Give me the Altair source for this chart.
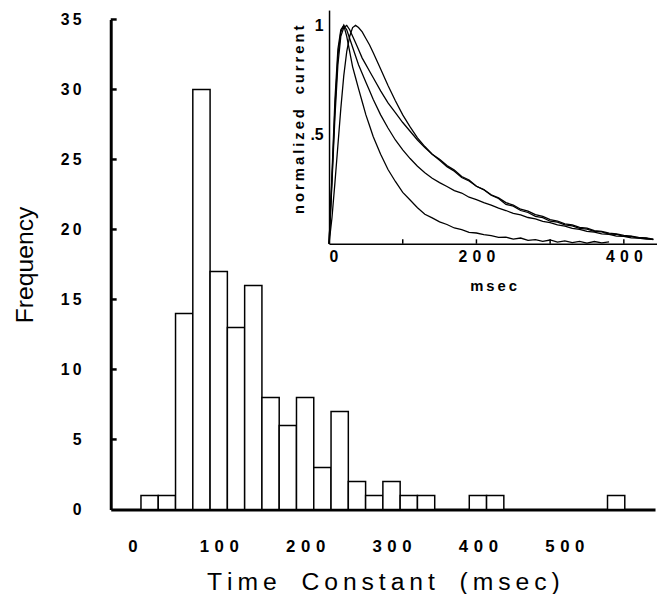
import altair as alt
import pandas as pd

# ---------------- histogram data (20 msec bins) ----------------
bin_start = [10, 30, 50, 70, 90, 110, 130, 150, 170, 190, 210, 230, 250, 270, 290, 310, 330, 390, 410, 550]
counts = [1, 1, 14, 30, 17, 13, 16, 8, 6, 8, 3, 7, 2, 1, 2, 1, 1, 1, 1, 1]
bin_width = 20
y_ticks = [0, 5, 10, 15, 20, 25, 30, 35]
x_ticks = [0, 100, 200, 300, 400, 500]

# ---------------- inset traces (normalized current vs msec) ----------------
t_ms = [0, 4, 8, 12, 16, 20, 24, 28, 32, 36, 40, 45, 50, 55, 60, 70, 80, 90, 100, 110, 120,
        130, 140, 150, 160, 170, 180, 190, 200, 210, 220, 230, 240, 250, 260, 270, 280, 290,
        300, 310, 320, 330, 340, 350, 360, 370, 380, 390, 400, 410, 420, 430, 440]
trace_a = [0.0, 0.30, 0.62, 0.86, 0.97, 1.0, 0.95, 0.88, 0.81, 0.76, 0.71, 0.65, 0.59, 0.54, 0.49,
           0.41, 0.34, 0.285, 0.235, 0.20, 0.165, 0.135, 0.118, 0.10, 0.088, 0.072, 0.064, 0.052,
           0.049, 0.042, 0.037, 0.029, 0.030, 0.021, 0.026, 0.015, 0.019, 0.011, 0.017, 0.007,
           0.013, 0.005, 0.011, 0.003, 0.010, 0.004, 0.008]
trace_b = [0.0, 0.32, 0.66, 0.89, 0.98, 1.0, 0.98, 0.94, 0.90, 0.86, 0.82, 0.78, 0.74, 0.70, 0.66,
           0.59, 0.53, 0.475, 0.43, 0.39, 0.355, 0.325, 0.30, 0.28, 0.262, 0.243, 0.232, 0.213,
           0.202, 0.188, 0.177, 0.163, 0.152, 0.139, 0.132, 0.12, 0.114, 0.102, 0.097, 0.086,
           0.080, 0.070, 0.066, 0.056, 0.053, 0.045, 0.043, 0.035, 0.034, 0.027, 0.026, 0.021, 0.02]
trace_c = [0.0, 0.28, 0.58, 0.82, 0.95, 0.99, 1.0, 0.98, 0.95, 0.92, 0.89, 0.85, 0.82, 0.79, 0.76,
           0.70, 0.645, 0.60, 0.555, 0.515, 0.475, 0.44, 0.41, 0.387, 0.358, 0.337, 0.308, 0.292,
           0.263, 0.247, 0.222, 0.207, 0.180, 0.172, 0.152, 0.143, 0.125, 0.119, 0.103, 0.099,
           0.086, 0.082, 0.070, 0.067, 0.056, 0.054, 0.044, 0.043, 0.034, 0.033, 0.026, 0.025, 0.019]
trace_d = [0.0, 0.12, 0.28, 0.45, 0.62, 0.77, 0.88, 0.95, 0.99, 1.0, 0.99, 0.97, 0.94, 0.91, 0.875,
           0.80, 0.725, 0.655, 0.59, 0.535, 0.485, 0.445, 0.41, 0.382, 0.353, 0.332, 0.303, 0.287,
           0.263, 0.248, 0.224, 0.210, 0.188, 0.177, 0.158, 0.149, 0.133, 0.125, 0.110, 0.104,
           0.091, 0.086, 0.075, 0.071, 0.060, 0.057, 0.048, 0.045, 0.038, 0.035, 0.029, 0.027, 0.021]
inset_x_ticks = [0, 200, 400]
inset_minor_ticks = [100, 200, 300, 400]
inset_y_ticks = [0.5, 1.0]

FONT = "Liberation Sans"
THIN = "\u2009"

# ---------------- tables ----------------
hist = pd.DataFrame({"start": bin_start, "count": counts})
hist["end"] = hist["start"] + bin_width

rows = []
for name, vals in [("a", trace_a), ("b", trace_b), ("c", trace_c), ("d", trace_d)]:
    for t, v in zip(t_ms, vals):
        rows.append({"t": t, "v": v, "trace": name})
traces = pd.DataFrame(rows)

ytick_df = pd.DataFrame({"y": y_ticks[1:]})
inset_tick_df = pd.DataFrame({"t": inset_minor_ticks})

spaced = "join(split(datum.label, ''), '\u2004')"


def spread(word):
    return THIN.join(word)


main_title = "\u2002\u2002".join(spread(w) for w in ["Time", "Constant", "(msec)"])

# ---------------- main histogram ----------------
x_main = alt.X(
    "start:Q",
    scale=alt.Scale(domain=[-25, 605], nice=False, zero=False),
    axis=alt.Axis(
        values=x_ticks, ticks=False, grid=False, domainWidth=3, domainColor="black",
        labelFont=FONT, labelFontSize=17, labelFontWeight="bold", labelColor="black",
        labelPadding=30, labelExpr=spaced,
        title=main_title, titleFont=FONT, titleFontSize=25,
        titleFontWeight="normal", titleColor="black", titleY=73, titleBaseline="middle",
    ),
)
y_main = alt.Y(
    "count:Q",
    scale=alt.Scale(domain=[0, 35], nice=False),
    axis=alt.Axis(
        values=y_ticks, ticks=False, grid=False, domainWidth=3, domainColor="black",
        labelFont=FONT, labelFontSize=16, labelFontWeight="bold", labelColor="black",
        labelPadding=30, labelExpr="join(split(datum.label, ''), '\u2009')",
        title="Frequency", titleFont=FONT, titleFontSize=25, titleFontWeight="normal",
        titleColor="black", titleAngle=-90, titleX=-87, titleY=248, titleBaseline="middle",
    ),
)

bars = alt.Chart(hist).mark_rect(fill="white", stroke="black", strokeWidth=1.5).encode(
    x=x_main, x2="end:Q", y=y_main, y2=alt.datum(0)
)

yticks = alt.Chart(ytick_df).mark_rule(color="black", strokeWidth=2.5).encode(
    y=alt.Y("y:Q"), x=alt.value(0), x2=alt.value(6)
)

main = alt.layer(bars, yticks)

# ---------------- inset ----------------
x_in = alt.X(
    "t:Q",
    scale=alt.Scale(domain=[0, 445], range=[221, 553], nice=False, zero=False),
    axis=alt.Axis(
        orient="bottom", offset=-269, values=inset_x_ticks, ticks=False, grid=False,
        domainWidth=1.5, domainColor="black",
        labelFont=FONT, labelFontSize=16, labelFontWeight="bold", labelColor="black",
        labelPadding=5, labelExpr=spaced,
        title=spread("msec"), titleFont=FONT, titleFontSize=15, titleFontWeight="bold",
        titleColor="black", titleY=42, titleBaseline="middle",
    ),
)
y_in = alt.Y(
    "v:Q",
    scale=alt.Scale(domain=[0, 1.07], range=[227, -9.5], nice=False, zero=False),
    axis=alt.Axis(
        orient="left", offset=-221, values=inset_y_ticks, ticks=False, grid=False,
        domainWidth=1.5, domainColor="black",
        labelFont=FONT, labelFontSize=16, labelFontWeight="bold", labelColor="black",
        labelPadding=6, labelExpr="datum.value == 1 ? '1' : '.5'",
        title=spread("normalized") + "\u2003" + spread("current"),
        titleFont=FONT, titleFontSize=15, titleFontWeight="bold", titleColor="black",
        titleAngle=-90, titleX=-31, titleY=101, titleBaseline="middle",
    ),
)

lines = alt.Chart(traces).mark_line(color="black", strokeWidth=1.3).encode(
    x=x_in, y=y_in, detail="trace:N", order="t:Q"
)
inset_ticks = alt.Chart(inset_tick_df).mark_rule(color="black", strokeWidth=1.5).encode(
    x=alt.X("t:Q"), y=alt.datum(0), y2=alt.datum(0.02)
)
inset = alt.layer(lines, inset_ticks)

chart = (
    alt.layer(main, inset)
    .resolve_scale(x="independent", y="independent")
    .resolve_axis(x="independent", y="independent")
    .properties(
        width=551, height=496,
        autosize=alt.AutoSizeParams(type="none"),
        padding={"left": 104, "top": 8, "right": 2, "bottom": 82},
    )
    .configure_view(stroke=None)
    .configure_axis(grid=False)
)

chart.save("out.html", embed_options={"renderer": "svg", "actions": False})
